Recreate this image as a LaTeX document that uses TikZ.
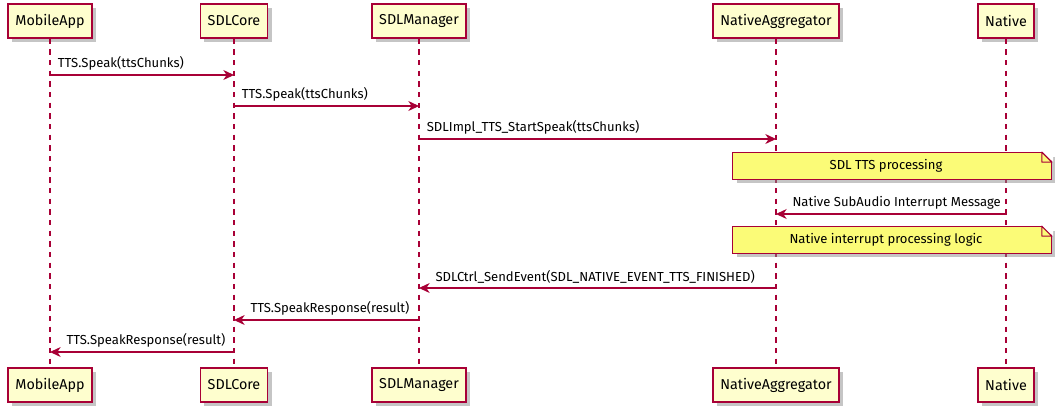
\documentclass[tikz,border=0pt]{standalone}
\usepackage{fontspec}
\setmainfont{Fira Sans}
\usetikzlibrary{arrows.meta,shadows}

\definecolor{umlred}{HTML}{A80036}
\definecolor{boxfill}{HTML}{FEFECE}
\definecolor{notefill}{HTML}{FBFB77}

\tikzset{
    participant/.style={draw=umlred, fill=boxfill, line width=1pt,
        minimum height=25.5pt, inner xsep=5.5pt,
        font=\fontsize{10.75}{13}\selectfont,
        drop shadow={shadow xshift=3pt, shadow yshift=-3pt, fill=black!45, opacity=0.5}},
    lifeline/.style={umlred, line width=0.8pt, dash pattern=on 4pt off 4pt},
    msg/.style={umlred, line width=0.8pt, -{Stealth[length=8pt, width=7.5pt, inset=2.5pt]}},
    lbl/.style={font=\fontsize{9.8}{12}\selectfont, text=black, inner sep=0pt},
    notebox/.style={draw=umlred, fill=notefill, line width=0.8pt,
        minimum width=239pt, minimum height=20pt,
        font=\fontsize{9.8}{12}\selectfont,
        drop shadow={shadow xshift=3pt, shadow yshift=-3pt, fill=black!45, opacity=0.5}}
}

% folded corner of a note
\newcommand{\notefold}[1]{%
    \fill[white] ([xshift=-7.5pt]#1.north east) -- ([shift={(1pt,1pt)}]#1.north east)
        -- ([yshift=-7.5pt, xshift=1pt]#1.north east) -- cycle;
    \draw[umlred, line width=0.8pt, line join=round]
        ([xshift=-7.5pt]#1.north east) |- ([yshift=-7.5pt]#1.north east) -- cycle;
}

\begin{document}
\begin{tikzpicture}[x=0.75pt, y=-0.75pt]
    \useasboundingbox (0,0) rectangle (1062,411);

    % participants
    \node[participant] (ma)  at (50,21)   {MobileApp};
    \node[participant] (sc)  at (234,21)  {SDLCore};
    \node[participant] (sm)  at (419,21)  {SDLManager};
    \node[participant] (na)  at (776,21)  {NativeAggregator};
    \node[participant] (nv)  at (1006,21) {Native};

    \node[participant] (ma2) at (50,385)   {MobileApp};
    \node[participant] (sc2) at (234,385)  {SDLCore};
    \node[participant] (sm2) at (419,385)  {SDLManager};
    \node[participant] (na2) at (776,385)  {NativeAggregator};
    \node[participant] (nv2) at (1006,385) {Native};

    % lifelines
    \draw[lifeline] (ma) -- (ma2);
    \draw[lifeline] (sc) -- (sc2);
    \draw[lifeline] (sm) -- (sm2);
    \draw[lifeline] (na) -- (na2);
    \draw[lifeline] (nv) -- (nv2);

    % messages
    \draw[msg] (ma |- 0,75) -- (sc |- 0,75)
        node[lbl, pos=0, anchor=south west, xshift=5.5pt, yshift=3pt] {TTS.Speak(ttsChunks)};
    \draw[msg] (sc |- 0,106) -- (sm |- 0,106)
        node[lbl, pos=0, anchor=south west, xshift=5.5pt, yshift=3pt] {TTS.Speak(ttsChunks)};
    \draw[msg] (sm |- 0,139) -- (na |- 0,139)
        node[lbl, pos=0, anchor=south west, xshift=5.5pt, yshift=3pt] {SDLImpl\_TTS\_StartSpeak(ttsChunks)};

    \node[notebox] (tts) at (892,166) {\hspace*{-9pt}SDL TTS processing};
    \notefold{tts}

    \draw[msg] (nv |- 0,214) -- (na |- 0,214)
        node[lbl, pos=1, anchor=south west, xshift=12pt, yshift=3pt] {Native SubAudio Interrupt Message};

    \node[notebox] (intr) at (892,240) {\hspace*{-9pt}Native interrupt processing logic};
    \notefold{intr}

    \draw[msg] (na |- 0,288) -- (sm |- 0,288)
        node[lbl, pos=1, anchor=south west, xshift=12pt, yshift=3pt] {SDLCtrl\_SendEvent(SDL\_NATIVE\_EVENT\_TTS\_FINISHED)};
    \draw[msg] (sm |- 0,320) -- (sc |- 0,320)
        node[lbl, pos=1, anchor=south west, xshift=12pt, yshift=3pt] {TTS.SpeakResponse(result)};
    \draw[msg] (sc |- 0,352) -- (ma |- 0,352)
        node[lbl, pos=1, anchor=south west, xshift=12pt, yshift=3pt] {TTS.SpeakResponse(result)};
\end{tikzpicture}
\end{document}
